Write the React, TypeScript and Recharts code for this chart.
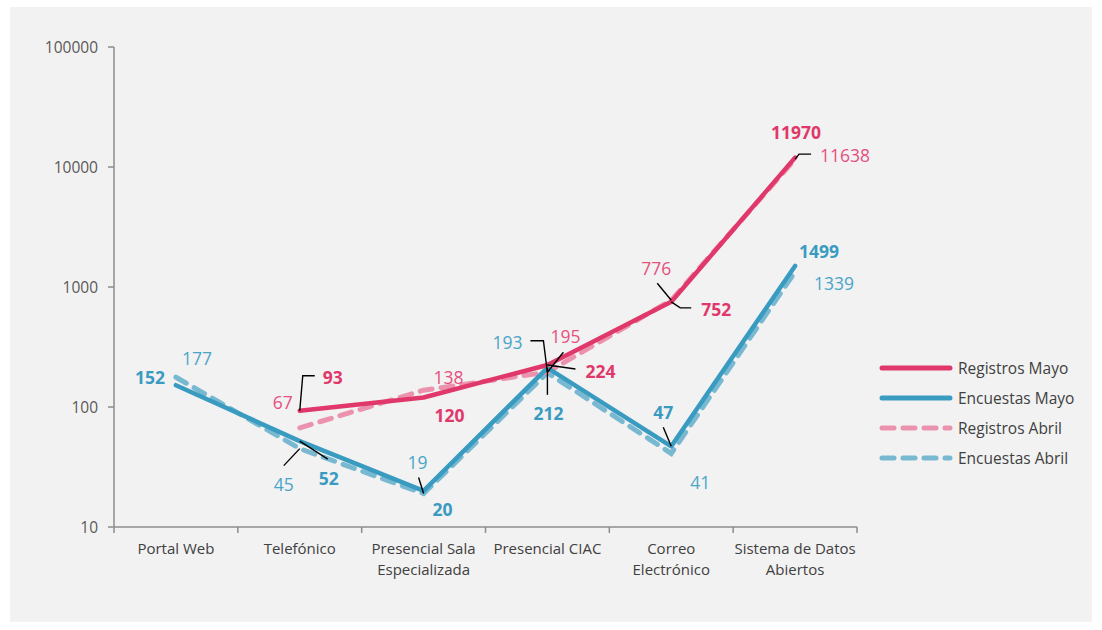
import React from 'react'
import { LineChart, Line, XAxis, YAxis, LabelList } from 'recharts'

const FONT = '"Open Sans", "Noto Sans", sans-serif'
const C = {
  bg: '#f2f2f2', axis: '#8c8c8c', text: '#404040', tick: '#595959',
  regMayo: '#e0386a', encMayo: '#3a9bc1', regAbril: '#eb93ae', encAbril: '#79b8d1',
  regAbrilLabel: '#e6507f', encAbrilLabel: '#4aa5c9', leader: '#000',
}

const categories = [
  'Portal Web', 'Telefónico', 'Presencial Sala Especializada',
  'Presencial CIAC', 'Correo Electrónico', 'Sistema de Datos Abiertos',
]
const registrosMayo = [null, 93, 120, 224, 752, 11970]
const encuestasMayo = [152, 52, 20, 212, 47, 1499]
const registrosAbril = [null, 67, 138, 195, 776, 11638]
const encuestasAbril = [177, 45, 19, 193, 41, 1339]
const yTicks = [10, 100, 1000, 10000, 100000]

// where each category label wraps (number of words on the first line)
const wrapAfter = [2, 1, 2, 2, 1, 3]

const data = categories.map((name, i) => ({
  name,
  registrosMayo: registrosMayo[i],
  encuestasMayo: encuestasMayo[i],
  registrosAbril: registrosAbril[i],
  encuestasAbril: encuestasAbril[i],
}))

const W = 1082, H = 615
const PLOT_W = 743
const HALF_BAND = PLOT_W / categories.length / 2

// label offsets from the point, plus optional leader line (relative to the point)
type Spot = { dx: number; dy: number; leader?: number[][] } | null
const spots: Record<string, Spot[]> = {
  encuestasMayo: [
    { dx: -26, dy: -8 },
    { dx: 29, dy: 37, leader: [[0, 0], [28, 18]] },
    { dx: 19, dy: 18 },
    { dx: 1, dy: 45, leader: [[0, 0], [0, 27]] },
    { dx: -8, dy: -34, leader: [[0, 0], [-8, -19]] },
    { dx: 24, dy: -15 },
  ],
  encuestasAbril: [
    { dx: 21, dy: -19 },
    { dx: -16, dy: 35, leader: [[0, 0], [-16, 17]] },
    { dx: -6, dy: -32, leader: [[0, 0], [-5, -16]] },
    { dx: -40, dy: -31, leader: [[0, 0], [-4, -32], [-17, -32]] },
    { dx: 29, dy: 29 },
    { dx: 39, dy: 11 },
  ],
  registrosMayo: [
    null,
    { dx: 33, dy: -34, leader: [[0, 0], [3, -35], [15, -35]] },
    { dx: 26, dy: 18 },
    { dx: 53, dy: 6, leader: [[0, 0], [28, 4]] },
    { dx: 45, dy: 7, leader: [[0, 0], [9, 6], [20, 6]] },
    { dx: 1, dy: -26 },
  ],
  registrosAbril: [
    null,
    { dx: -17, dy: -26 },
    { dx: 25, dy: -13 },
    { dx: 18, dy: -36, leader: [[0, 0], [16, -20]] },
    { dx: -15, dy: -32, leader: [[0, 0], [-14, -17]] },
    { dx: 50, dy: -4, leader: [[0, 0], [4, -5], [16, -5]] },
  ],
}

function makeLabel(key: string, color: string, bold: boolean) {
  return (p: any) => {
    const s = spots[key][p.index]
    if (!s || p.value == null) return null
    const x = Number(p.x), y = Number(p.y)
    return (
      <g>
        {s.leader && (
          <polyline
            points={s.leader.map(([a, b]) => `${x + a},${y + b}`).join(' ')}
            fill="none" stroke={C.leader} strokeWidth={1.4}
          />
        )}
        <text x={x + s.dx} y={y + s.dy} textAnchor="middle" dominantBaseline="central"
          fill={color} fontSize={17.5} fontWeight={bold ? 700 : 400} fontFamily={FONT}>
          {p.value}
        </text>
      </g>
    )
  }
}

function CatTick(props: any) {
  const { x, y, payload, index } = props
  const words = String(payload.value).split(' ')
  const n = wrapAfter[index] ?? words.length
  const lines = [words.slice(0, n).join(' '), words.slice(n).join(' ')].filter(Boolean)
  return (
    <g>
      <line x1={x - HALF_BAND} y1={y} x2={x - HALF_BAND} y2={y + 6} stroke={C.axis} strokeWidth={1.5} />
      {index === categories.length - 1 && (
        <line x1={x + HALF_BAND} y1={y} x2={x + HALF_BAND} y2={y + 6} stroke={C.axis} strokeWidth={1.5} />
      )}
      <text x={x} y={y + 27} textAnchor="middle" fill={C.text} fontSize={15} fontFamily={FONT}>
        {lines.map((l, i) => (
          <tspan key={i} x={x} dy={i === 0 ? 0 : 21}>{l}</tspan>
        ))}
      </text>
    </g>
  )
}

const legendItems = [
  { label: 'Registros Mayo', color: C.regMayo, dash: undefined },
  { label: 'Encuestas Mayo', color: C.encMayo, dash: undefined },
  { label: 'Registros Abril', color: C.regAbril, dash: '12 9' },
  { label: 'Encuestas Abril', color: C.encAbril, dash: '12 9' },
]

function LegendBox() {
  return (
    <div style={{ position: 'absolute', left: 868, top: 346, fontFamily: FONT }}>
      {legendItems.map(it => (
        <div key={it.label} style={{ display: 'flex', alignItems: 'center', height: 30 }}>
          <svg width={76} height={10}>
            <line x1={4} y1={5} x2={72} y2={5} stroke={it.color} strokeWidth={5}
              strokeLinecap="round" strokeDasharray={it.dash} />
          </svg>
          <span style={{ marginLeft: 4, fontSize: 15.5, color: C.text }}>{it.label}</span>
        </div>
      ))}
    </div>
  )
}

export default function App() {
  return (
    <div style={{ position: 'absolute', left: 10, top: 7, width: W, height: H, background: C.bg }}>
      <LineChart width={W} height={H} data={data} margin={{ top: 40, right: 235, bottom: 35, left: 0 }}>
        <XAxis dataKey="name" interval={0} height={60} tickSize={0} tickMargin={0} tickLine={false}
          padding={{ left: HALF_BAND, right: HALF_BAND }}
          axisLine={{ stroke: C.axis, strokeWidth: 1.5 }} tick={<CatTick />} />
        <YAxis type="number" scale="log" domain={[10, 100000]} ticks={yTicks} allowDataOverflow width={104}
          axisLine={{ stroke: C.axis, strokeWidth: 1.5 }} tickLine={{ stroke: C.axis, strokeWidth: 1.5 }}
          tickSize={6} tickMargin={10}
          tick={{ fill: C.tick, fontSize: 15.5, fontFamily: FONT }} />
        <Line type="linear" dataKey="encuestasAbril" name="Encuestas Abril" stroke={C.encAbril} strokeWidth={5}
          strokeDasharray="12 9" strokeLinecap="round" dot={false} activeDot={false} isAnimationActive={false}>
          <LabelList dataKey="encuestasAbril" content={makeLabel('encuestasAbril', C.encAbrilLabel, false)} />
        </Line>
        <Line type="linear" dataKey="registrosAbril" name="Registros Abril" stroke={C.regAbril} strokeWidth={5}
          strokeDasharray="12 9" strokeLinecap="round" dot={false} activeDot={false} isAnimationActive={false}>
          <LabelList dataKey="registrosAbril" content={makeLabel('registrosAbril', C.regAbrilLabel, false)} />
        </Line>
        <Line type="linear" dataKey="encuestasMayo" name="Encuestas Mayo" stroke={C.encMayo} strokeWidth={4.5}
          strokeLinecap="round" strokeLinejoin="round" dot={false} activeDot={false} isAnimationActive={false}>
          <LabelList dataKey="encuestasMayo" content={makeLabel('encuestasMayo', C.encMayo, true)} />
        </Line>
        <Line type="linear" dataKey="registrosMayo" name="Registros Mayo" stroke={C.regMayo} strokeWidth={4.5}
          strokeLinecap="round" strokeLinejoin="round" dot={false} activeDot={false} isAnimationActive={false}>
          <LabelList dataKey="registrosMayo" content={makeLabel('registrosMayo', C.regMayo, true)} />
        </Line>
      </LineChart>
      <LegendBox />
    </div>
  )
}
